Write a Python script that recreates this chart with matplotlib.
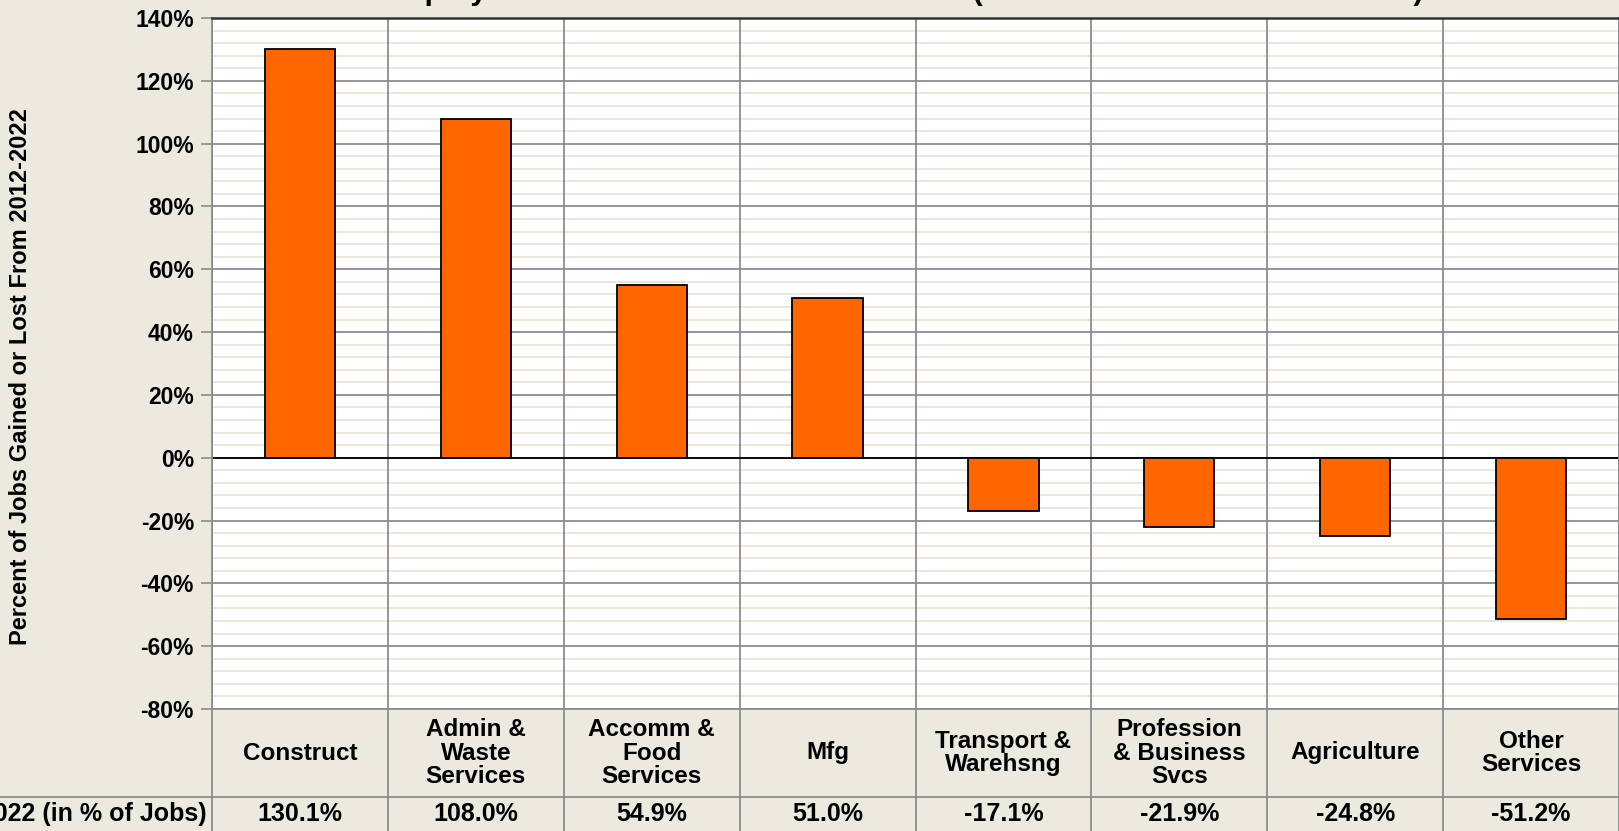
import matplotlib
matplotlib.use("Agg")
import matplotlib.pyplot as plt
from matplotlib.ticker import MultipleLocator, FuncFormatter

plt.rcParams['font.family'] = ['Liberation Sans', 'DejaVu Sans']
plt.rcParams['font.weight'] = 'bold'

# data
categories = ["Construct", "Admin &\nWaste\nServices", "Accomm &\nFood\nServices", "Mfg",
              "Transport &\nWarehsng", "Profession\n& Business\nSvcs", "Agriculture", "Other\nServices"]
values = [130.1, 108.0, 54.9, 51.0, -17.1, -21.9, -24.8, -51.2]
row_label = "% Change 2012-2022 (in % of Jobs)"
title = "Employment Gains & Losses Since 2012 (Selected Industries Statewide)"
ylabel = "Percent of Jobs Gained or Lost From 2012-2022"

bg = '#ECE9DF'
bar_color = '#FF6600'
grid_major = '#8C8C8C'
grid_minor = '#E9E5D9'

W, H = 1619, 831
fig = plt.figure(figsize=(W / 100, H / 100), dpi=100, facecolor=bg)

left_px, top_px, bottom_px = 212, 18, 709
ax = fig.add_axes([left_px / W, 1 - bottom_px / H, 1 - left_px / W, (bottom_px - top_px) / H])
ax.set_facecolor('white')

x = list(range(len(categories)))
n = len(categories)

# grid
ax.set_ylim(-80, 140)
ax.set_xlim(-0.5, n - 0.5)
ax.set_axisbelow(True)
ax.yaxis.set_major_locator(MultipleLocator(20))
ax.yaxis.set_minor_locator(MultipleLocator(4))
ax.grid(which='minor', axis='y', color=grid_minor, lw=1.3)
ax.grid(which='major', axis='y', color=grid_major, lw=1.3)
for b in range(n + 1):
    ax.axvline(b - 0.5, color=grid_major, lw=1.3, zorder=2)
ax.axhline(0, color='black', lw=1.3, zorder=2)

ax.bar(x, values, width=0.4, color=bar_color, edgecolor='black', lw=1.3, zorder=3)

ax.set_xticks([])
ax.tick_params(axis='y', which='major', length=8, width=1.2, color=grid_major, pad=5, labelsize=16.5)
ax.tick_params(axis='y', which='minor', length=0)
ax.yaxis.set_major_formatter(FuncFormatter(lambda v, p: f"{int(v)}%"))
for lab in ax.get_yticklabels():
    lab.set_fontweight('bold')
for s in ['left', 'bottom', 'right']:
    ax.spines[s].set_color(grid_major)
    ax.spines[s].set_linewidth(1.3)
ax.spines['top'].set_color('#333333')
ax.spines['top'].set_linewidth(1.8)

# data table below the plot
tab = fig.add_axes([left_px / W, 0, 1 - left_px / W, (H - bottom_px) / H], sharex=ax)
tab.set_facecolor(bg)
tab.set_ylim(0, H - bottom_px)
tab.axis('off')
head_bottom = H - 797
for b in range(n + 1):
    tab.plot([b - 0.5, b - 0.5], [0, H - bottom_px], color=grid_major, lw=1.3, clip_on=False)
tab.plot([-5, n - 0.5], [head_bottom, head_bottom], color=grid_major, lw=1.3, clip_on=False)
for xi, cat, v in zip(x, categories, values):
    tab.text(xi, (head_bottom + H - bottom_px) / 2, cat, ha='center', va='center',
             fontsize=17.5, fontweight='bold', linespacing=1.05)
    tab.text(xi, head_bottom / 2, f"{v:.1f}%", ha='center', va='center',
             fontsize=18, fontweight='bold')
tab.text(-0.53, head_bottom / 2, row_label, ha='right', va='center',
         fontsize=18, fontweight='bold', clip_on=False)

fig.text(21 / W, 1 - 377 / H, ylabel, rotation=90, ha='center', va='center',
         fontsize=17, fontweight='bold')
fig.text(0.556, 1 + 1 / H, title, ha='center', va='baseline', fontsize=22,
         fontweight='bold', color='black')

fig.savefig('out.png', dpi=100, facecolor=bg)
